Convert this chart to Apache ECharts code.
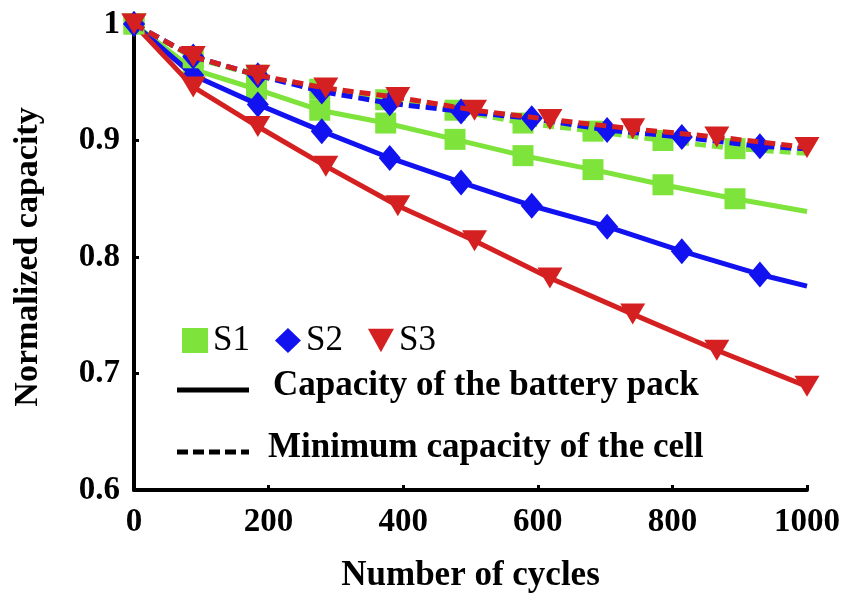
<!DOCTYPE html>
<html>
<head>
<meta charset="utf-8">
<script src="https://cdn.jsdelivr.net/npm/echarts@6/dist/echarts.min.js"></script>
<style>html,body{margin:0;padding:0;background:#fff;}#main{width:845px;height:598px;}</style>
</head>
<body>
<div id="main"></div>
<script>
// ---- data ----
const xTicks = [0, 200, 400, 600, 800, 1000];
const yTicks = [0.6, 0.7, 0.8, 0.9, 1.0];

const cyclesS1 = [0, 88, 182, 276, 374, 477, 578, 682, 786, 893, 1000];
const packS1   = [1.0, 0.961, 0.944, 0.926, 0.915, 0.901, 0.887, 0.875, 0.862, 0.850, 0.839];
const cellS1   = [1.0, 0.971, 0.956, 0.944, 0.935, 0.926, 0.915, 0.908, 0.900, 0.893, 0.889];

const cyclesS2 = [0, 88, 184, 279, 380, 486, 591, 703, 814, 930, 1000];
const packS2   = [1.0, 0.956, 0.931, 0.908, 0.885, 0.864, 0.844, 0.826, 0.805, 0.785, 0.775];
const cellS2   = [1.0, 0.972, 0.956, 0.942, 0.932, 0.925, 0.919, 0.909, 0.903, 0.895, 0.893];

const cyclesS3 = [0, 88, 184, 285, 392, 506, 618, 741, 866, 1000];
const packS3   = [1.0, 0.946, 0.912, 0.878, 0.844, 0.814, 0.782, 0.751, 0.720, 0.689];
const cellS3   = [1.0, 0.972, 0.956, 0.945, 0.937, 0.926, 0.918, 0.910, 0.903, 0.894];

const seriesNames = ['S1', 'S2', 'S3'];
const legendPack = 'Capacity of the battery pack';
const legendCell = 'Minimum capacity of the cell';
const xName = 'Number of cycles';
const yName = 'Normalized capacity';

// ---- styling ----
const FONT = '"Liberation Serif", "Times New Roman", serif';
const GREEN = '#7EE33A', BLUE = '#1212F0', RED = '#D42020';
const TRI = 'path://M0,0L10,0L5,9Z';

function build(cycles, vals, lastMarker) {
  return cycles.map((c, i) => {
    const item = { value: [c, vals[i]] };
    if (i === cycles.length - 1 && !lastMarker) item.symbol = 'none';
    return item;
  });
}

function lineSeries(name, cycles, vals, color, symbol, size, dashed, lastMarker, z) {
  return {
    name: name, type: 'line', clip: false, z: z,
    data: build(cycles, vals, lastMarker),
    symbol: symbol, symbolSize: size,
    itemStyle: { color: color },
    lineStyle: { color: color, width: 5, type: dashed ? [11, 6] : 'solid' },
    emphasis: { disabled: true }
  };
}

const chart = echarts.init(document.getElementById('main'), null, { renderer: 'canvas' });
const option = {
  animation: false,
  backgroundColor: '#fff',
  grid: { left: 134, right: 38, top: 24, bottom: 106 },
  legend: {
    data: [
      { name: seriesNames[0], icon: 'rect' },
      { name: seriesNames[1], icon: 'diamond' },
      { name: seriesNames[2], icon: TRI }
    ],
    left: 177, top: 318, itemWidth: 26, itemHeight: 25, itemGap: 25,
    textStyle: { fontFamily: FONT, fontSize: 35, color: '#000' }
  },
  xAxis: {
    type: 'value', min: xTicks[0], max: xTicks[xTicks.length - 1], interval: 200,
    name: xName, nameLocation: 'middle', nameGap: 68,
    nameTextStyle: { fontFamily: FONT, fontWeight: 'bold', fontSize: 35, color: '#000' },
    axisLine: { lineStyle: { color: '#000', width: 4 } },
    axisTick: { inside: true, length: 5, lineStyle: { color: '#000', width: 3 } },
    axisLabel: { margin: 16, fontFamily: FONT, fontWeight: 'bold', fontSize: 33, color: '#000',
                 formatter: function (v) { return String(v); } },
    splitLine: { show: false }
  },
  yAxis: {
    type: 'value', min: yTicks[0], max: yTicks[yTicks.length - 1], interval: 0.1,
    name: yName, nameLocation: 'middle', nameGap: 89,
    nameTextStyle: { fontFamily: FONT, fontWeight: 'bold', fontSize: 34, color: '#000' },
    axisLine: { lineStyle: { color: '#000', width: 4 } },
    axisTick: { inside: true, length: 5, lineStyle: { color: '#000', width: 3 } },
    axisLabel: { margin: 14, fontFamily: FONT, fontWeight: 'bold', fontSize: 33, color: '#000' },
    splitLine: { show: false }
  },
  series: [
    lineSeries(seriesNames[0], cyclesS1, packS1, GREEN, 'rect', 21, false, false, 2),
    lineSeries(seriesNames[1], cyclesS2, packS2, BLUE, 'diamond', [22, 26], false, false, 3),
    lineSeries(seriesNames[2], cyclesS3, packS3, RED, TRI, [25, 21], false, true, 4),
    lineSeries(seriesNames[0], cyclesS1, cellS1, GREEN, 'rect', 21, true, false, 5),
    lineSeries(seriesNames[1], cyclesS2, cellS2, BLUE, 'diamond', [22, 26], true, false, 6),
    lineSeries(seriesNames[2], cyclesS3, cellS3, RED, TRI, [25, 21], true, true, 7)
  ],
  graphic: [
    { type: 'line', shape: { x1: 177, y1: 390, x2: 249, y2: 390 }, style: { stroke: '#000', lineWidth: 5 } },
    { type: 'text', left: 273, top: 368, style: { text: legendPack, font: 'bold 35px ' + FONT, fill: '#000' } },
    { type: 'line', shape: { x1: 177, y1: 452, x2: 249, y2: 452 }, style: { stroke: '#000', lineWidth: 5, lineDash: [11, 5] } },
    { type: 'text', left: 268, top: 430, style: { text: legendCell, font: 'bold 35px ' + FONT, fill: '#000' } }
  ]
};
chart.setOption(option);
</script>
</body>
</html>
